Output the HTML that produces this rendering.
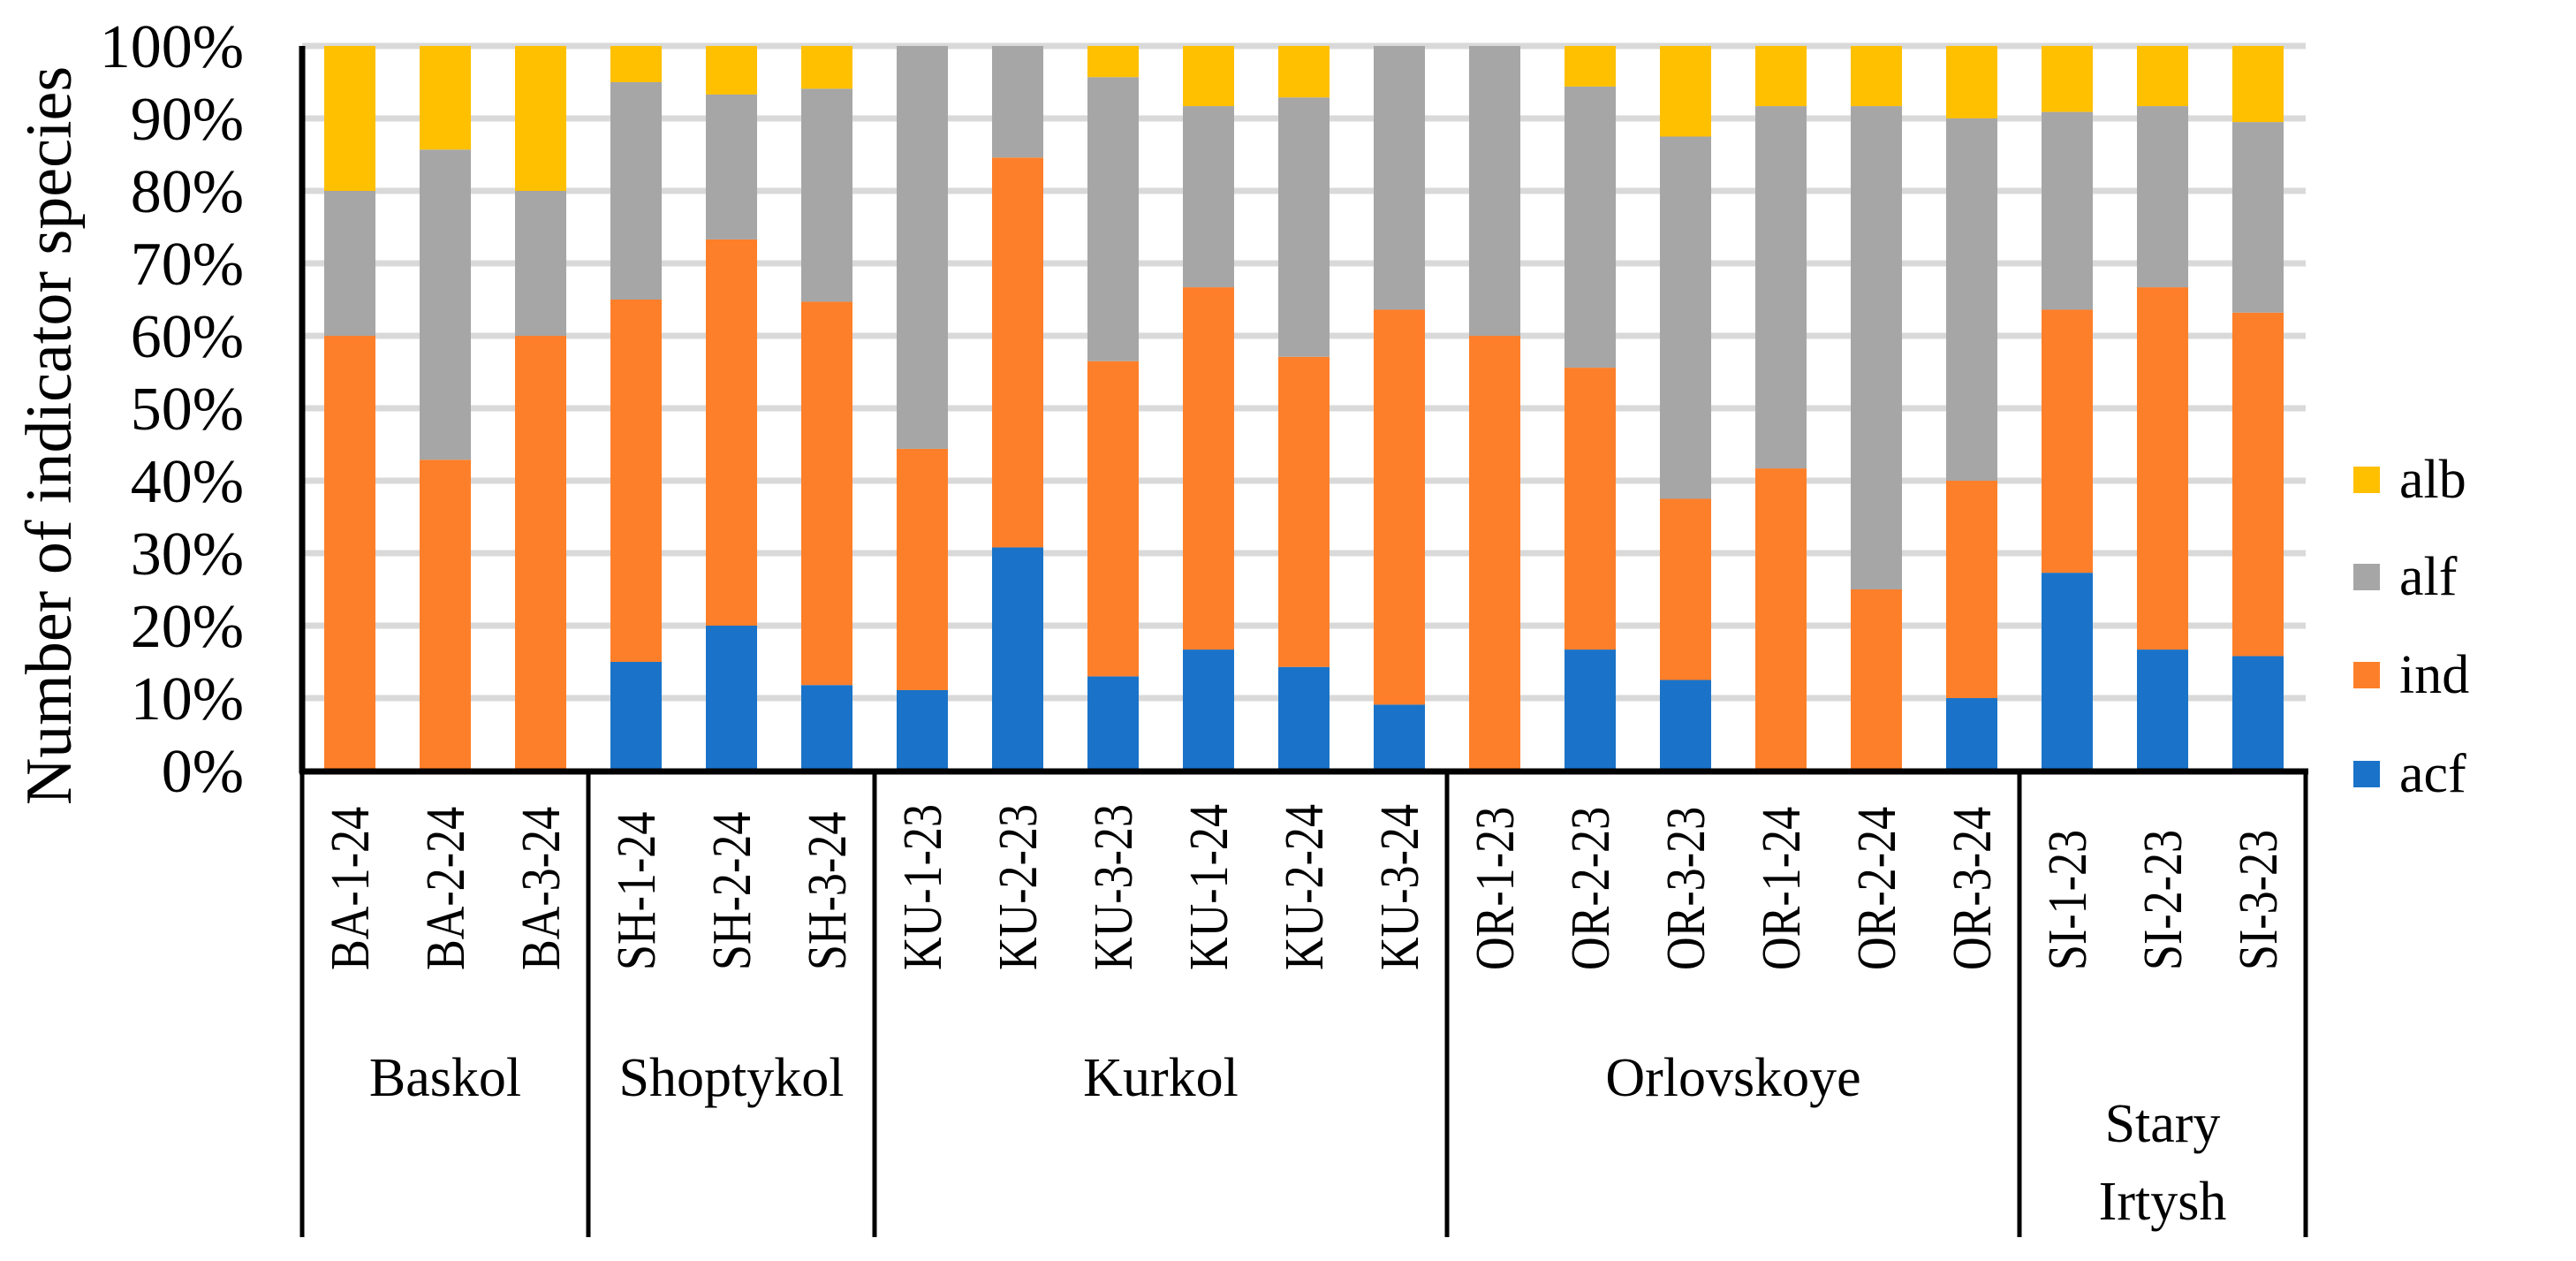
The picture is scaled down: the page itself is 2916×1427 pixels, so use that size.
<!DOCTYPE html>
<html><head><meta charset="utf-8"><style>
html,body{margin:0;padding:0;background:#fff;}
svg{display:block;font-family:"Liberation Serif",serif;}
</style></head><body>
<svg id="chart" width="2916" height="1427" viewBox="0 0 2916 1427" xmlns="http://www.w3.org/2000/svg">
<g id="grid"></g>
<g id="bars"></g>
<g id="axes"></g>
<g id="legend"></g>
<text transform="translate(80,493) rotate(-90)" text-anchor="middle" font-size="74" fill="#000">Number of indicator species</text>
</svg>
<script>
const categories = ["BA-1-24","BA-2-24","BA-3-24","SH-1-24","SH-2-24","SH-3-24","KU-1-23","KU-2-23","KU-3-23","KU-1-24","KU-2-24","KU-3-24","OR-1-23","OR-2-23","OR-3-23","OR-1-24","OR-2-24","OR-3-24","SI-1-23","SI-2-23","SI-3-23"];
const acf = [0,0,0,15,20,11.8,11.1,30.8,13,16.7,14.3,9.1,0,16.7,12.5,0,0,10,27.3,16.7,15.8];
const ind = [60,42.9,60,50,53.3,52.9,33.3,53.8,43.5,50,42.8,54.5,60,38.9,25,41.7,25,30,36.3,50,47.4];
const alf = [20,42.8,20,30,20,29.4,55.6,15.4,39.2,25,35.8,36.4,40,38.8,50,50,66.7,50,27.3,25,26.3];
const alb = [20,14.3,20,5,6.7,5.9,0,0,4.3,8.3,7.1,0,0,5.6,12.5,8.3,8.3,10,9.1,8.3,10.5];
const groups = ["Baskol","Shoptykol","Kurkol","Orlovskoye","Stary Irtysh"];
const groupSizes = [3,3,6,6,3];
const yTicks = [0,10,20,30,40,50,60,70,80,90,100];
const seriesNames = ["acf","ind","alf","alb"];
const seriesColors = ["#1a73c8","#fe7f2a","#a6a6a6","#ffc000"];

const NS="http://www.w3.org/2000/svg";
const X0=342, CW=108, Y0=872, Y100=52, BW=58;
const y = v => Y0 - (Y0-Y100)*v/100;
const x = i => X0 + CW*i + CW/2;
function mk(tag, attrs, parent){const e=document.createElementNS(NS,tag);for(const k in attrs)e.setAttribute(k,attrs[k]);parent.appendChild(e);return e;}
const grid=document.getElementById('grid'), bars=document.getElementById('bars'), axes=document.getElementById('axes'), legend=document.getElementById('legend');
const XEND = X0 + CW*categories.length;

yTicks.forEach(t=>{
  if(t>0){const l=mk('line',{x1:X0,x2:XEND,y1:y(t),y2:y(t),stroke:'#d9d9d9','stroke-width':7},grid);
  
  }
  const tx=mk('text',{x:276,y:y(t)+24,'text-anchor':'end','font-size':70,fill:'#000'},axes);
  tx.textContent=t+'%';
  
  
});

const series=[acf,ind,alf,alb];
categories.forEach((c,i)=>{
  let base=0;
  series.forEach((s,k)=>{
    const v=s[i];
    if(v>0){
      const r=mk('rect',{x:x(i)-BW/2,y:y(base+v),width:BW,height:y(base)-y(base+v),fill:seriesColors[k]},bars);
      
      
    }
    base+=v;
  });
  const t=mk('text',{transform:`translate(${x(i)+21},${1098}) rotate(-90) scale(0.84,1)`,'font-size':62,fill:'#000'},axes);
  t.textContent=c;
  
  
});

const ya=mk('line',{x1:X0,x2:X0,y1:Y100,y2:Y0+3,stroke:'#000','stroke-width':7},axes);


const xa=mk('line',{x1:X0-3,x2:XEND+3,y1:Y0+1,y2:Y0+1,stroke:'#000','stroke-width':7},axes);



let start=0;
const divs=[0];
groupSizes.forEach(n=>{start+=n;divs.push(start);});
divs.forEach(d=>{
  const l=mk('line',{x1:X0+CW*d,x2:X0+CW*d,y1:Y0,y2:1400,stroke:'#000','stroke-width':5},axes);
  
  
});
groups.forEach((g,j)=>{
  const cx=X0+CW*(divs[j]+divs[j+1])/2;
  const parts=g==="Stary Irtysh"?["Stary","Irtysh"]:[g];
  parts.forEach((p,m)=>{
    const yy = parts.length>1 ? 1292+m*88 : 1240;
    const t=mk('text',{x:cx,y:yy,'text-anchor':'middle','font-size':62,fill:'#000'},axes);
    t.textContent=p;
    
    
  });
});

const legY=[876,764,653,543];
seriesNames.forEach((n,k)=>{
  const r=mk('rect',{x:2664,y:legY[k]-15,width:30,height:30,fill:seriesColors[k]},legend);
  
  
  const t=mk('text',{x:2716,y:legY[k]+20,'font-size':62,fill:'#000'},legend);
  t.textContent=n;
  
  
});
</script>
</body></html>
